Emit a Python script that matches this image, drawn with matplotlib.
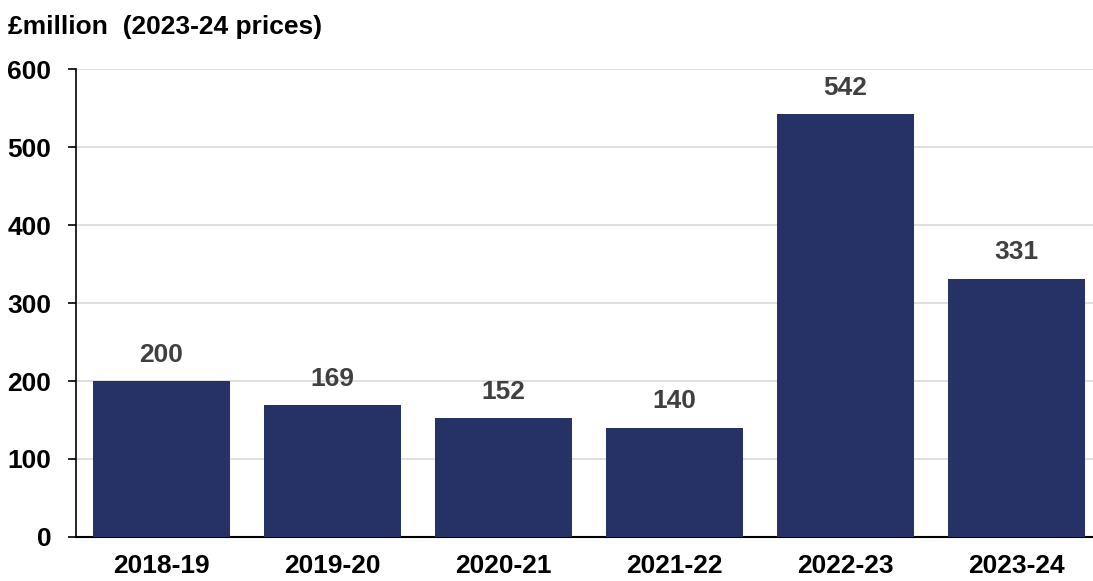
import matplotlib.pyplot as plt

years = ["2018-19", "2019-20", "2020-21", "2021-22", "2022-23", "2023-24"]
spend = [200, 169, 152, 140, 542, 331]

plt.rcParams['font.family'] = ['Liberation Sans', 'DejaVu Sans']
plt.rcParams['font.weight'] = 'bold'

fig = plt.figure(figsize=(10.93, 5.81), dpi=100)
ax = fig.add_axes([76 / 1093, 1 - 537 / 581, (1093 - 76) / 1093, (537 - 69) / 581])

x = range(len(years))
ax.bar(x, spend, width=0.8, color="#263166", zorder=3)
for xi, v in zip(x, spend):
    ax.annotate(str(v), (xi, v), xytext=(0, 19), textcoords="offset points",
                ha="center", va="center", fontsize=19, color="#404040",
                fontweight="bold")

ax.set_xlim(-0.5, 5.447)
ax.set_ylim(0, 600)
ax.set_yticks(range(0, 601, 100))
ax.set_xticks(list(x))
ax.set_xticklabels(years)
ax.tick_params(axis="y", length=5.8, width=1.2, labelsize=19, pad=12)
ax.tick_params(axis="x", length=0, labelsize=19, pad=12)
ax.yaxis.grid(True, color="#d9d9d9", linewidth=1.2, zorder=0)
for s in ["top", "right"]:
    ax.spines[s].set_visible(False)
ax.spines["left"].set_linewidth(1.2)
ax.spines["bottom"].set_linewidth(1.5)

fig.text(8 / 1093, 1 - 27 / 581, "£million  (2023-24 prices)", fontsize=19,
         fontweight="bold", va="center", ha="left")

fig.savefig("out.png", dpi=100)
